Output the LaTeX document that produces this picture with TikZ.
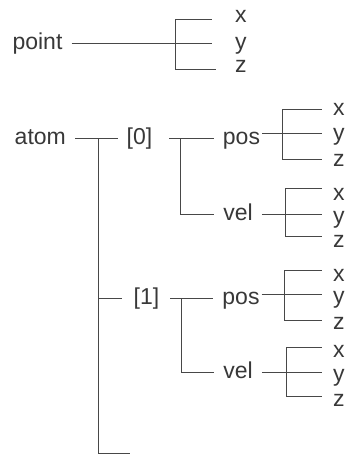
\documentclass[tikz,border=0pt]{standalone}
\usepackage{fontspec}
\setmainfont{Liberation Sans}
\tikzset{lbl/.style={text=black!78, font=\fontsize{23}{27}\selectfont, inner xsep=9pt, inner ysep=0pt, text height=12pt, text depth=0pt}}
\tikzset{tree/.style={draw=black!72, line width=1pt}}

\begin{document}
\begin{tikzpicture}[x=1pt, y=-1pt]
    \useasboundingbox (0,0) rectangle (348,455);
    % point
    \node[lbl] (point) at (37.5,43) {point};
    \node[lbl] (ptx) at (240.75,16) {x};
    \node[lbl] (pty) at (240.75,43) {y};
    \node[lbl] (ptz) at (240.75,66) {z};
    \coordinate (ptt) at (175,19);
    \coordinate (ptb) at (175,69);
    \draw[tree] (ptt) -- (ptb);
    \draw[tree, shorten >=14pt] (ptt) -- (ptt -| ptx.west);
    \draw[tree, shorten >=14pt] (point) -- (pty);
    \draw[tree, shorten >=10pt] (ptb) -- (ptb -| ptz.west);
    % atom
    \node[lbl] (atom) at (40.3,138) {atom};
    \node[lbl] (a0) at (139.5,138) {[0]};
    \node[lbl] (pos0) at (241.5,138) {pos};
    \node[lbl] (vel0) at (238,214) {vel};
    \node[lbl] (a1) at (146.5,298) {[1]};
    \node[lbl] (pos1) at (241,298) {pos};
    \node[lbl] (vel1) at (238,372) {vel};
    \coordinate (trt) at (98,138);
    \coordinate (trb) at (98,453);
    \coordinate (stub) at (130,453);
    \coordinate (b0) at (180,138);
    \coordinate (b1) at (181,298);
    \draw[tree] (atom) -- (a0);
    \draw[tree] (trt) -- (trb) -- (stub);
    \draw[tree, shorten >=3pt] (trt |- a1) -- (a1);
    \draw[tree, shorten <=8pt] (a0) -- (pos0);
    \draw[tree] (b0) |- (vel0);
    \draw[tree, shorten <=2pt] (a1) -- (pos1);
    \draw[tree] (b1) |- (vel1);
    % x y z of pos and vel
    \foreach \n/\l/\yl in {p0x/x/109, p0y/y/134, p0z/z/160, v0x/x/194, v0y/y/217, v0z/z/241,
                           p1x/x/275, p1y/y/297, p1z/z/323, v1x/x/351, v1y/y/375, v1z/z/400}
        \node[lbl] (\n) at (338.75,\yl) {\l};
    \foreach \n/\p/\xb/\yt/\ym/\yb/\sh in {p0/pos0/282/109/133/159/-7pt, v0/vel0/285/188/214/236/0pt,
                                           p1/pos1/284/270/294/320/-7pt, v1/vel1/286/347/372/396/0pt}{
        \coordinate (\n t) at (\xb,\yt);
        \coordinate (\n m) at (\xb,\ym);
        \coordinate (\n b) at (\xb,\yb);
        \draw[tree] (\n t) -- (\n b);
        \draw[tree, shorten >=2pt] (\n t) -- (\n t -| \n x.west);
        \draw[tree, shorten <=\sh, shorten >=2pt] (\p.east |- \n m) -- (\n m -| \n y.west);
        \draw[tree, shorten >=2pt] (\n b) -- (\n b -| \n z.west);
    }
\end{tikzpicture}
\end{document}
